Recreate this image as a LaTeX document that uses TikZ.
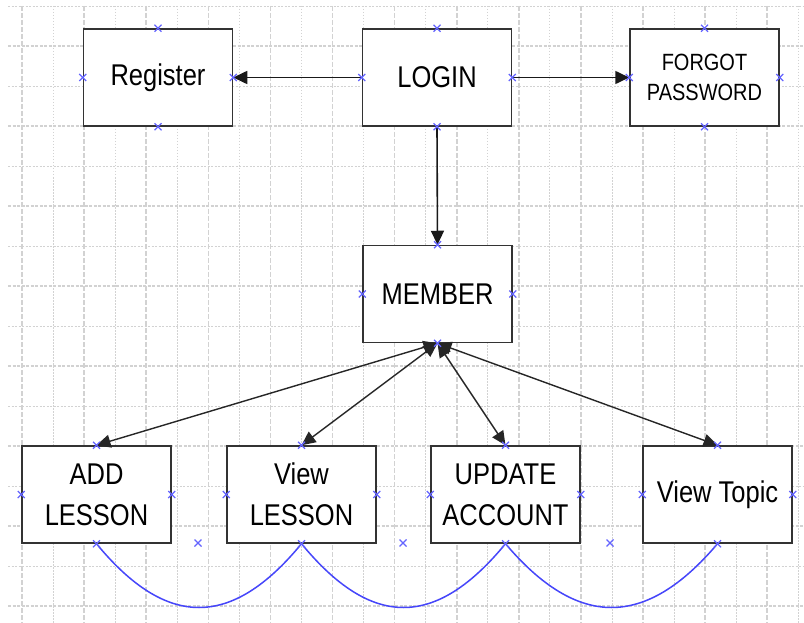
\documentclass[tikz,border=0pt]{standalone}
\usepackage{fontspec}
\setmainfont[FakeStretch=0.85]{Liberation Sans}
\usetikzlibrary{arrows.meta}
\definecolor{gridgray}{RGB}{210,210,210}
\definecolor{markblue}{RGB}{100,100,255}
\definecolor{linkblue}{RGB}{70,70,250}
\tikzset{
  screen/.style={draw=black!80, line width=1.5pt, fill=white, minimum width=149pt, minimum height=97pt, inner sep=0pt, align=center, font=\fontsize{30}{41}\selectfont},
  link/.style={black!90, line width=1.6pt, -{Triangle[length=14pt,width=13pt]}},
  twoway/.style={black!85, line width=1.4pt, {Triangle[length=14pt,width=13pt]}-{Triangle[length=14pt,width=13pt]}},
  pics/xmk/.style={code={\draw[markblue, line width=1.2pt] (-3.5,-3.5) -- (3.5,3.5) (-3.5,3.5) -- (3.5,-3.5);}}
}

\begin{document}
\begin{tikzpicture}[x=1pt, y=-1pt]
\useasboundingbox (0,0) rectangle (804,623);
% grid
\foreach \i in {0,...,12} {
	\draw[gridgray, line width=1.6pt, dash pattern=on 5pt off 2pt] ({22+62.1*\i}, 6) -- ({22+62.1*\i}, 623);
	\draw[gridgray, line width=0.8pt, dash pattern=on 1.5pt off 1.5pt] ({53+62.1*\i}, 6) -- ({53+62.1*\i}, 623);
	};
\foreach \j in {0,...,7} {
	\draw[gridgray, line width=1.2pt, dash pattern=on 3pt off 1.5pt] (8, {46+80*\j}) -- (804, {46+80*\j});
	\draw[gridgray, line width=0.8pt, dash pattern=on 2pt off 1.5pt] (8, {6+80*\j}) -- (804, {6+80*\j});
	};
% screens
\node[screen] (register) at (158, 77.5) {Register};
\node[screen] (login) at (437, 77.5) {LOGIN};
\node[screen, font=\fontsize{23.5}{30}\selectfont] (forgot) at (704.5, 77.5) {FORGOT\\PASSWORD};
\node[screen] (member) at (437.5, 294) {MEMBER};
\node[screen] (addlesson) at (96.5, 494.5) {ADD\\LESSON};
\node[screen] (viewlesson) at (301.5, 494.5) {View\\LESSON};
\node[screen] (update) at (505.5, 494.5) {UPDATE\\ACCOUNT};
\node[screen] (viewtopic) at (717.5, 494.5) {View Topic};
\coordinate (m1) at (198, 543);
\coordinate (m2) at (403, 543);
\coordinate (m3) at (610, 543);
% links
\draw[link] (login.west) -- (register.east);
\draw[link] (login.east) -- (forgot.west);
\draw[link] (login.south) -- (member.north);
\foreach \n in {addlesson, viewlesson, update, viewtopic}
	\draw[twoway] (member.south) -- (\n.north);
\draw[linkblue, line width=1.5pt] (addlesson.south) .. controls +(70,85) and +(-70,85) .. (viewlesson.south);
\draw[linkblue, line width=1.5pt] (viewlesson.south) .. controls +(70,85) and +(-70,85) .. (update.south);
\draw[linkblue, line width=1.5pt] (update.south) .. controls +(72,85) and +(-72,85) .. (viewtopic.south);
% markers
\foreach \n in {register, login, forgot, member, addlesson, viewlesson, update, viewtopic}
	\foreach \a in {north, south, east, west}
		\pic at (\n.\a) {xmk};
\foreach \m in {m1, m2, m3}
	\pic at (\m) {xmk};
\end{tikzpicture}
\end{document}
